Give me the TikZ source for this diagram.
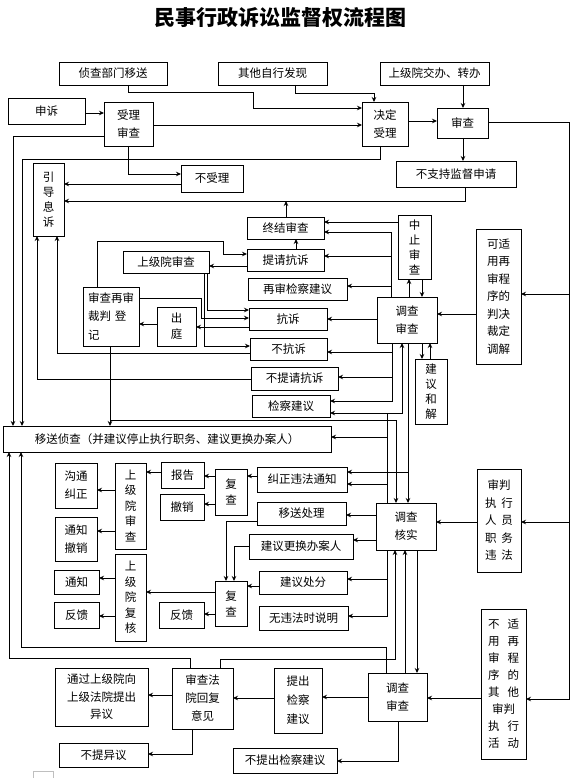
\documentclass[tikz,border=0pt]{standalone}
\usepackage{fontspec}
\setmainfont{Noto Sans CJK SC}
\usetikzlibrary{arrows.meta}
\newcommand\mkbox[7][]{\node[bx,minimum width={(#5-#3)*1pt},minimum height={(#6-#4)*1pt},#1] (#2) at ({(#3+#5)/2},{(#4+#6)/2}) {#7};}
\newcommand\fs[1]{\fontsize{11.5}{#1}\selectfont}
\begin{document}
\begin{tikzpicture}[x=1pt,y=-1pt,
  bx/.style={draw,line width=0.9pt,inner sep=0pt,outer sep=0pt,align=center,font=\fs{16}},
  ln/.style={line width=0.9pt},
  ar/.style={line width=0.9pt,-{Stealth[length=5pt,width=4.5pt]}},
  ar2/.style={line width=0.9pt,{Stealth[length=5pt,width=4.5pt]}-{Stealth[length=5pt,width=4.5pt]}}]
\useasboundingbox[fill=white] (0,0) rectangle (575,778);
\node[font=\fontsize{21}{24}\selectfont\bfseries] (title) at (280,18) {民事行政诉讼监督权流程图};
% boxes
\mkbox{zcbm}{59}{62}{167}{85}{侦查部门移送}
\mkbox{qtzx}{218}{62}{327}{85}{其他自行发现}
\mkbox{sjy}{380}{62}{489}{85}{上级院交办、转办}
\mkbox{ss}{8}{98}{85}{124}{申诉}
\mkbox[font=\fs{18}]{slsc}{104}{102}{153}{146}{受理\\审查}
\mkbox[font=\fs{18}]{jdsl}{362}{102}{408}{146}{决定\\受理}
\mkbox{sc}{437}{108}{488}{138}{审查}
\mkbox{bzc}{396}{161}{516}{187}{不支持监督申请}
\mkbox{bsl}{181}{165}{243}{192}{不受理}
\mkbox[font=\fs{15}]{ydxs}{33}{163}{64}{236}{引\\导\\息\\诉}
\mkbox{zjsc}{247}{217}{324}{239}{终结审查}
\mkbox[font=\fs{15}]{zzsc}{398}{215}{431}{279}{中\\止\\审\\查}
\mkbox{tqks}{247}{249}{324}{271}{提请抗诉}
\mkbox{sjysc}{123}{251}{209}{273}{上级院审查}
\mkbox{zsjc}{248}{278}{347}{300}{再审检察建议}
\mkbox[font=\fs{18.5},align=left]{dj}{83}{287}{139}{346}{审查再审\\裁判\hspace{4pt}登\\记}
\mkbox[font=\fs{16}]{ct}{157}{307}{196}{346}{出\\庭}
\mkbox{ks}{249}{308}{327}{330}{抗诉}
\mkbox[font=\fs{18}]{dcsc}{377}{297}{437}{343}{调查\\审查}
\mkbox[font=\fs{17.5}]{kys}{476}{229}{521}{364}{可适\\用再\\审程\\序的\\判决\\裁定\\调解}
\mkbox{bks}{250}{338}{327}{360}{不抗诉}
\mkbox{btq}{251}{367}{338}{390}{不提请抗诉}
\mkbox{jcjy}{252}{395}{330}{417}{检察建议}
\mkbox[font=\fs{15}]{jyhj}{415}{359}{447}{424}{建\\议\\和\\解}
\mkbox{yszc}{3}{426}{331}{452}{移送侦查（并建议停止执行职务、建议更换办案人）}
\mkbox[font=\fs{18}]{gtjz}{55}{463}{97}{508}{沟通\\纠正}
\mkbox[font=\fs{15.5}]{sjysc2}{115}{463}{146}{549}{上\\级\\院\\审\\查}
\mkbox{bg}{161}{462}{204}{488}{报告}
\mkbox{cx}{160}{494}{204}{520}{撤销}
\mkbox[font=\fs{16}]{fc1}{215}{469}{247}{515}{复\\查}
\mkbox{jzwf}{257}{467}{347}{492}{纠正违法通知}
\mkbox[font=\fs{17.5}]{spzx}{477}{469}{521}{572}{审判\\执\hspace{5pt}行\\人\hspace{5pt}员\\职\hspace{5pt}务\\违\hspace{5pt}法}
\mkbox{yscl}{257}{502}{346}{525}{移送处理}
\mkbox[font=\fs{18}]{dchs}{376}{503}{436}{550}{调查\\核实}
\mkbox[font=\fs{18}]{tzcx}{55}{517}{97}{561}{通知\\撤销}
\mkbox{jyghb}{249}{534}{353}{559}{建议更换办案人}
\mkbox[font=\fs{15.5}]{sjyfh}{115}{554}{146}{641}{上\\级\\院\\复\\核}
\mkbox{tz}{54}{570}{99}{594}{通知}
\mkbox{jycf}{259}{571}{347}{594}{建议处分}
\mkbox[font=\fs{16}]{fc2}{215}{581}{247}{626}{复\\查}
\mkbox{fk1}{54}{602}{99}{628}{反馈}
\mkbox{fk2}{159}{602}{204}{628}{反馈}
\mkbox{wwf}{259}{606}{348}{630}{无违法时说明}
\mkbox[font=\fs{17}]{bsy}{481}{609}{526}{759}{不\hspace{8pt}适\\用\hspace{8pt}再\\审\hspace{8pt}程\\序\hspace{8pt}的\\其\hspace{8pt}他\\审判\\执\hspace{8pt}行\\活\hspace{8pt}动}
\mkbox[font=\fs{17.5}]{tgsj}{55}{668}{148}{726}{通过上级院向\\上级法院提出\\异议}
\mkbox[font=\fs{18}]{schf}{172}{668}{233}{729}{审查法\\院回复\\意见}
\mkbox[font=\fs{19}]{tcjc}{274}{668}{322}{733}{提出\\检察\\建议}
\mkbox[font=\fs{18}]{dcsc2}{368}{673}{427}{721}{调查\\审查}
\mkbox{btyy}{59}{743}{148}{767}{不提异议}
\mkbox{btcjc}{233}{748}{337}{773}{不提出检察建议}
% connectors: top
\draw[ar] (ss.east|-0,113) -- (slsc.west|-0,113);
\draw[ar] (128,0|-zcbm.south) -- (128,92) -- (253,92) -- (253,108) -- (jdsl.west|-0,108);
\draw[ar] (slsc.east|-0,125) -- (jdsl.west|-0,125);
\draw[ar] (295,0|-qtzx.south) -- (295,93) -- (374,93) -- (374,0|-jdsl.north);
\draw[ar] (jdsl.east|-0,121) -- (sc.west|-0,121);
\draw[ar] (463,0|-sjy.south) -- (463,0|-sc.north);
\draw[ar] (463,0|-sc.south) -- (463,0|-bzc.north);
\draw[ar] (sc.east|-0,122) -- (569,122) -- (569,699) -- (bsy.east|-0,699);
\draw[ar] (569,294) -- (kys.east|-0,294);
\draw[ar] (569,522) -- (spzx.east|-0,522);
\draw[ar] (380,0|-jdsl.south) -- (380,159) -- (22,159) -- (22,0|-yszc.north);
\draw[ar] (slsc.west|-0,136) -- (13,136) -- (13,0|-yszc.north);
\draw[ar] (128,0|-slsc.south) -- (128,174) -- (bsl.west|-0,174);
\draw[ar] (bsl.west|-0,184) -- (ydxs.east|-0,184);
\draw[ar] (465,0|-bzc.south) -- (465,201) -- (ydxs.east|-0,201);
\draw[ar] (286,0|-zjsc.north) -- (286,201);
% middle
\draw[ar] (zzsc.west|-0,222) -- (zjsc.east|-0,222);
\draw[ar] (391,0|-dcsc.north) -- (391,232) -- (zjsc.east|-0,232);
\draw[ar] (391,256) -- (tqks.east|-0,256);
\draw[ar] (391,286) -- (zsjc.east|-0,286);
\draw[ar] (296,0|-tqks.north) -- (296,0|-zjsc.south);
\draw[ar] (tqks.west|-0,266) -- (sjysc.east|-0,266);
\draw[ar] (97,0|-dj.north) -- (97,241) -- (223,241) -- (223,254) -- (tqks.west|-0,254);
\draw[ar] (207,0|-sjysc.south) -- (207,310) -- (ks.west|-0,310);
\draw[ar] (204,0|-sjysc.south) -- (204,346) -- (bks.west|-0,346);
\draw[ar] (dj.east|-0,298) -- (201,298) -- (201,318) -- (ks.west|-0,318);
\draw[ar] (ks.west|-0,327) -- (ct.east|-0,327);
\draw[ar] (ct.west|-0,324) -- (dj.east|-0,324);
\draw[ar] (dcsc.west|-0,319) -- (ks.east|-0,319);
\draw[ar] (392,0|-dcsc.south) -- (392,401) -- (jcjy.east|-0,401);
\draw[ar] (392,352) -- (bks.east|-0,352);
\draw[ar] (392,377) -- (btq.east|-0,377);
\draw[ar2] (jcjy.east|-0,413) -- (402,413) -- (402,0|-dcsc.south);
\draw[ar] (408,0|-dcsc.south) -- (408,0|-dchs.north);
\draw[ar] (408,472) -- (jzwf.east|-0,472);
\draw[ln] (387,413) -- (387,0|-dchs.north);
\draw[ar] (387,437) -- (yszc.east|-0,437);
\draw[ar] (387,484) -- (jzwf.east|-0,484);
\draw[ar] (110,0|-dj.south) -- (110,0|-yszc.north);
\draw[ar] (110,420) -- (396,420) -- (396,0|-dchs.north);
\draw[ar] (422,0|-dcsc.south) -- (422,0|-jyhj.north);
\draw[ar] (430,0|-jyhj.north) -- (430,0|-dcsc.south);
\draw[ar] (409,0|-dcsc.north) -- (409,0|-zzsc.south);
\draw[ar] (422,0|-zzsc.south) -- (422,0|-dcsc.north);
\draw[ar] (kys.west|-0,314) -- (dcsc.east|-0,314);
\draw[ar] (bks.west|-0,353) -- (57,353) -- (57,0|-ydxs.south);
\draw[ar] (btq.west|-0,379) -- (37,379) -- (37,0|-ydxs.south);
% lower
\draw[ar] (jzwf.west|-0,476) -- (fc1.east|-0,476);
\draw[ar] (fc1.west|-0,476) -- (bg.east|-0,476);
\draw[ar] (fc1.west|-0,504) -- (cx.east|-0,504);
\draw[ar] (bg.west|-0,472) -- (sjysc2.east|-0,472);
\draw[ar] (sjysc2.west|-0,490) -- (gtjz.east|-0,490);
\draw[ar] (sjysc2.west|-0,531) -- (tzcx.east|-0,531);
\draw[ar] (yscl.west|-0,521) -- (226,521) -- (226,0|-fc2.north);
\draw[ar] (jyghb.west|-0,546) -- (234,546) -- (234,0|-fc2.north);
\draw[ar] (jycf.west|-0,586) -- (fc2.east|-0,586);
\draw[ar] (fc2.west|-0,592) -- (sjyfh.east|-0,592);
\draw[ar] (fc2.west|-0,614) -- (fk2.east|-0,614);
\draw[ar] (sjyfh.west|-0,578) -- (tz.east|-0,578);
\draw[ar] (sjyfh.west|-0,616) -- (fk1.east|-0,616);
\draw[ar] (dchs.west|-0,515) -- (yscl.east|-0,515);
\draw[ar] (dchs.west|-0,540) -- (jyghb.east|-0,540);
\draw[ar] (387,0|-dchs.south) -- (387,616) -- (wwf.east|-0,616);
\draw[ar] (387,579) -- (jycf.east|-0,579);
\draw[ar] (spzx.west|-0,522) -- (dchs.east|-0,522);
\draw[ar] (386,0|-dcsc2.north) -- (386,647) -- (21,647) -- (21,0|-yszc.south);
\draw[ar] (190,0|-schf.north) -- (190,658) -- (9,658) -- (9,0|-yszc.south);
\draw[ar] (220,0|-schf.north) -- (220,659) -- (395,659) -- (395,0|-dchs.south);
\draw[ar] (405,0|-dcsc2.north) -- (405,0|-dchs.south);
\draw[ar] (417,0|-dchs.south) -- (417,0|-dcsc2.north);
\draw[ar] (bsy.west|-0,698) -- (dcsc2.east|-0,698);
\draw[ar] (dcsc2.west|-0,697) -- (tcjc.east|-0,697);
\draw[ar] (tcjc.west|-0,698) -- (schf.east|-0,698);
\draw[ar] (schf.west|-0,695) -- (tgsj.east|-0,695);
\draw[ar] (192,0|-schf.south) -- (192,754) -- (btyy.east|-0,754);
\draw[ar] (398,0|-dcsc2.south) -- (398,761) -- (btcjc.east|-0,761);
\draw[gray!50,line width=0.8pt] (33,778) -- (33,771) -- (53,771) -- (53,778);
\end{tikzpicture}
\end{document}
